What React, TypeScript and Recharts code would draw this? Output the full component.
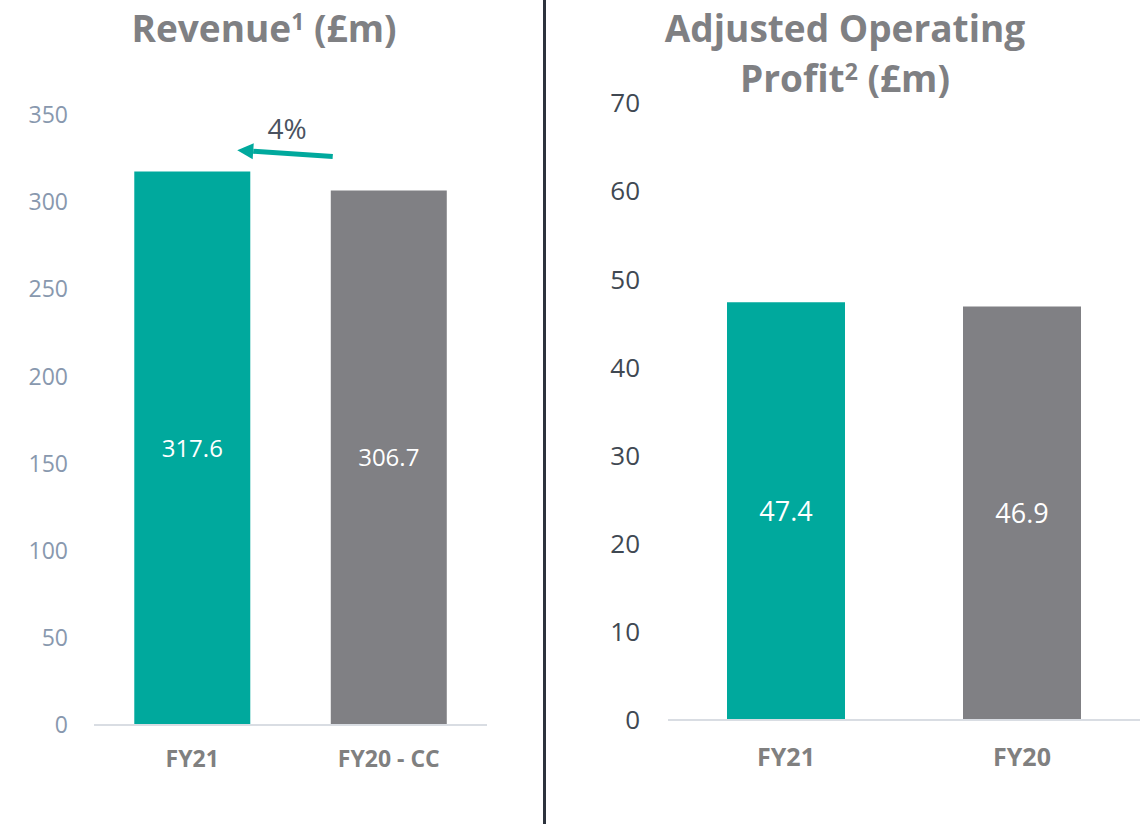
import React from 'react';
import { BarChart, Bar, XAxis, YAxis, Cell, LabelList, ReferenceLine } from 'recharts';

const revenueCategories = ['FY21', 'FY20 - CC'];
const revenueValues = [317.6, 306.7];
const revenueTicks = [0, 50, 100, 150, 200, 250, 300, 350];

const profitCategories = ['FY21', 'FY20'];
const profitValues = [47.4, 46.9];
const profitTicks = [0, 10, 20, 30, 40, 50, 60, 70];

const barColors = ['#00a99d', '#808084'];

// growth arrow from FY20 - CC back to FY21
const arrowFrom = { x: 'FY20 - CC', y: 324 };
const arrowTo = { x: 'FY21', y: 331.5 };
const arrowLabel = '4%';

const revenueData = revenueCategories.map((c, i) => ({ name: c, value: revenueValues[i] }));
const profitData = profitCategories.map((c, i) => ({ name: c, value: profitValues[i] }));

const font = '"Open Sans", sans-serif';

const titleStyle: React.CSSProperties = {
  position: 'absolute',
  fontFamily: font,
  fontWeight: 700,
  fontSize: 37,
  color: '#7f8083',
  textAlign: 'center',
  lineHeight: '50px',
};

const supStyle: React.CSSProperties = { fontSize: 23, verticalAlign: 'top', lineHeight: '36px' };

const Arrow = (props: any) => {
  const { x1, y1, x2, y2 } = props;
  // shorten the segment so it sits between the bars
  const sx = x1 - 56;
  const sy = y1 + ((y2 - y1) * 56) / (x1 - x2);
  const ex = x2 + 45;
  const ey = y2 - ((y2 - y1) * 45) / (x1 - x2);
  const ang = Math.atan2(ey - sy, ex - sx);
  const len = 16;
  const hw = 8;
  const bx = ex - len * Math.cos(ang);
  const by = ey - len * Math.sin(ang);
  const px = -Math.sin(ang) * hw;
  const py = Math.cos(ang) * hw;
  return (
    <g>
      <line x1={sx} y1={sy} x2={bx} y2={by} stroke="#00a99d" strokeWidth={5} />
      <polygon points={`${ex},${ey} ${bx + px},${by + py} ${bx - px},${by - py}`} fill="#00a99d" />
      <text x={(sx + ex) / 2 + 2} y={sy - 18} textAnchor="middle" fill="#4a5260" fontSize={28} fontFamily={font}>
        {arrowLabel}
      </text>
    </g>
  );
};

export default function App() {
  return (
    <div style={{ position: 'absolute', left: 0, top: 0, width: 1147, height: 824, background: '#ffffff', overflow: 'hidden' }}>
      <div style={{ ...titleStyle, left: 0, width: 528, top: 3 }}>
        Revenue<span style={supStyle}>1</span> (£m)
      </div>
      <div style={{ ...titleStyle, left: 546, width: 598, top: 3 }}>
        Adjusted Operating<br />Profit<span style={supStyle}>2</span> (£m)
      </div>

      <div style={{ position: 'absolute', left: 543, top: 0, width: 3, height: 824, background: '#2d333d' }} />

      <div style={{ position: 'absolute', left: 0, top: 0 }}>
        <BarChart width={520} height={824} data={revenueData} margin={{ top: 115, right: 33, bottom: 39, left: 0 }} barCategoryGap="20.5%">
          <XAxis dataKey="name" axisLine={{ stroke: '#d9dde3', strokeWidth: 2 }} tickLine={false} height={60} tickMargin={20}
            tick={{ fill: '#808080', fontSize: 23, fontWeight: 700, fontFamily: font }} />
          <YAxis domain={[0, 350]} ticks={revenueTicks} width={94} axisLine={false} tickLine={false} tickMargin={20}
            tick={{ fill: '#8898ae', fontSize: 23, fontFamily: font }} />
          <Bar dataKey="value" isAnimationActive={false}>
            {revenueData.map((d, i) => <Cell key={d.name} fill={barColors[i]} />)}
            <LabelList dataKey="value" position="center" fill="#ffffff" fontSize={24} fontFamily={font} />
          </Bar>
          <ReferenceLine segment={[arrowFrom, arrowTo]} shape={<Arrow />} ifOverflow="visible" />
        </BarChart>
      </div>

      <div style={{ position: 'absolute', left: 546, top: 0 }}>
        <BarChart width={601} height={824} data={profitData} margin={{ top: 103, right: 7, bottom: 44, left: 0 }} barCategoryGap="25%">
          <XAxis dataKey="name" axisLine={{ stroke: '#d9dde3', strokeWidth: 2 }} tickLine={false} height={60} tickMargin={22}
            tick={{ fill: '#808080', fontSize: 25, fontWeight: 700, fontFamily: font }} />
          <YAxis domain={[0, 70]} ticks={profitTicks} width={122} axisLine={false} tickLine={false} tickMargin={22}
            tick={{ fill: '#404852', fontSize: 26, fontFamily: font }} />
          <Bar dataKey="value" isAnimationActive={false}>
            {profitData.map((d, i) => <Cell key={d.name} fill={barColors[i]} />)}
            <LabelList dataKey="value" position="center" fill="#ffffff" fontSize={27} fontFamily={font} />
          </Bar>
        </BarChart>
      </div>
    </div>
  );
}
